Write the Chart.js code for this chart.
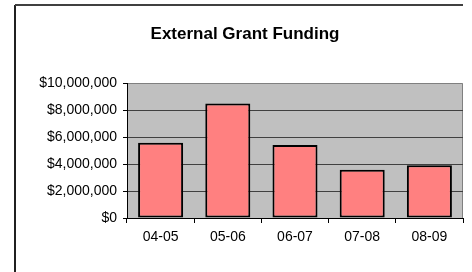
<!DOCTYPE html>
<html>
<head>
<meta charset="utf-8">
<script src="https://cdn.jsdelivr.net/npm/chart.js@4"></script>
<style>
  html, body { margin: 0; padding: 0; background: #fff; }
  #wrap { width: 472px; height: 272px; position: relative; }
</style>
</head>
<body>
<div id="wrap"><canvas id="grantChart"></canvas></div>
<script>
const years = ["04-05", "05-06", "06-07", "07-08", "08-09"];
const funding = [5580000, 8480000, 5400000, 3580000, 3900000];
const yTicks = [0, 2000000, 4000000, 6000000, 8000000, 10000000];
const chartTitle = "External Grant Funding";

// grey plot area, outer frame and the title (centred on the frame, not the canvas)
const frame = {
    id: 'frame',
    beforeDraw(chart) {
        const { ctx, chartArea: a } = chart;
        ctx.save();
        ctx.fillStyle = '#c0c0c0';
        ctx.fillRect(a.left, a.top, a.right - a.left, a.bottom - a.top);
        ctx.strokeStyle = '#808080';
        ctx.lineWidth = 1;
        ctx.beginPath();
        ctx.moveTo(a.left, a.top + 0.5);
        ctx.lineTo(a.right - 0.5, a.top + 0.5);
        ctx.lineTo(a.right - 0.5, a.bottom);
        ctx.stroke();
        // outer chart border
        ctx.lineWidth = 2;
        ctx.beginPath();
        ctx.moveTo(15, 272);
        ctx.lineTo(15, 5);
        ctx.strokeStyle = '#202020';
        ctx.stroke();
        ctx.beginPath();
        ctx.moveTo(15, 5);
        ctx.lineTo(463, 5);
        ctx.strokeStyle = '#404040';
        ctx.stroke();
        // title
        ctx.fillStyle = '#000';
        ctx.font = 'bold 17px "Liberation Sans", Arial';
        ctx.textAlign = 'center';
        ctx.textBaseline = 'middle';
        ctx.fillText(chartTitle, 245, 34);
        ctx.restore();
    }
};

function money(v) {
    return '$' + v.toLocaleString('en-US');
}

window.onload = () => {
    const ctx = document.getElementById('grantChart').getContext('2d');
    new Chart(ctx, {
        type: 'bar',
        data: {
            labels: years,
            datasets: [{
                data: funding,
                backgroundColor: '#ff8080',
                borderColor: '#000',
                borderWidth: 2,
                borderSkipped: false,
                categoryPercentage: 1,
                barPercentage: 0.67
            }]
        },
        options: {
            responsive: true,
            maintainAspectRatio: false,
            animation: false,
            layout: { padding: { top: 83, right: 9, bottom: 0, left: 0 } },
            plugins: {
                legend: { display: false },
                tooltip: { enabled: false },
                title: { display: false }
            },
            scales: {
                y: {
                    min: 0, max: 10000000,
                    afterBuildTicks: s => { s.ticks = yTicks.map(v => ({ value: v })); },
                    afterFit: s => { s.width = 127; },
                    border: { color: '#000', width: 1 },
                    grid: {
                        color: c => c.tick.value === 10000000 ? 'rgba(0,0,0,0)' : '#404040',
                        tickColor: '#000',
                        tickLength: 4
                    },
                    ticks: {
                        color: '#000',
                        padding: 6,
                        font: { family: 'Liberation Sans, Arial', size: 14 },
                        callback: v => money(v)
                    }
                },
                x: {
                    afterFit: s => { s.height = 54; },
                    border: { color: '#000', width: 1 },
                    grid: {
                        offset: true,
                        drawOnChartArea: false,
                        tickColor: '#000',
                        tickLength: 5
                    },
                    ticks: {
                        color: '#000',
                        padding: 6,
                        font: { family: 'Liberation Sans, Arial', size: 14 }
                    }
                }
            }
        },
        plugins: [frame]
    });
};
</script>
</body>
</html>
